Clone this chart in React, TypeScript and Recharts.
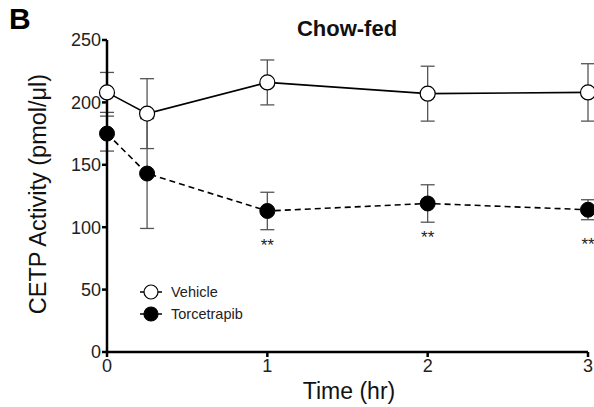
import React from "react";
import {
    LineChart,
    Line,
    XAxis,
    YAxis,
    ErrorBar,
    LabelList,
    Legend,
} from "recharts";

const timeHr = [0, 0.25, 1, 2, 3];
const vehicle = [208, 191, 216, 207, 208];
const vehicleErr = [16, 28, 18, 22, 23];
const torcetrapib = [175, 143, 113, 119, 114];
const torcetrapibErr = [14, 44, 15, 15, 8];
const significance = ["", "", "**", "**", "**"];
const yTicks = [0, 50, 100, 150, 200, 250];
const xTicks = [0, 1, 2, 3];

const data = timeHr.map((t, i) => ({
    t,
    vehicle: vehicle[i],
    vehicleErr: vehicleErr[i],
    torcetrapib: torcetrapib[i],
    torcetrapibErr: torcetrapibErr[i],
    sig: significance[i],
}));

const FONT = '"Liberation Sans", Arial, sans-serif';

const StarLabel = (props: any) => {
    const { x, y, value } = props;
    if (!value) return null;
    return (
        <text
            x={x}
            y={y + 40}
            textAnchor="middle"
            fontSize={17}
            fontFamily={FONT}
            fill="#222"
        >
            {value}
        </text>
    );
};

const LegendBox = () => {
    const rows = [
        { name: "Vehicle", fill: "#fff" },
        { name: "Torcetrapib", fill: "#000" },
    ];
    return (
        <div style={{ fontFamily: FONT, fontSize: 14.5, color: "#222" }}>
            {rows.map((r) => (
                <div
                    key={r.name}
                    style={{ display: "flex", alignItems: "center", height: 22 }}
                >
                    <svg width={22} height={16} style={{ marginRight: 9 }}>
                        <line x1={0} y1={8} x2={22} y2={8} stroke="#000" strokeWidth={1.5} />
                        <circle cx={11} cy={8} r={7} fill={r.fill} stroke="#000" strokeWidth={1.2} />
                    </svg>
                    <span>{r.name}</span>
                </div>
            ))}
        </div>
    );
};

export default function App() {
    return (
        <div style={{ position: "absolute", left: 0, top: 0, width: 594, height: 407, background: "#fff" }}>
            <div style={{ position: "absolute", left: 9, top: 2, fontFamily: FONT, fontWeight: 700, fontSize: 30 }}>
                B
            </div>
            <div
                style={{
                    position: "absolute",
                    left: 247,
                    width: 200,
                    top: 16,
                    textAlign: "center",
                    fontFamily: FONT,
                    fontWeight: 700,
                    fontSize: 22,
                    color: "#111",
                }}
            >
                Chow-fed
            </div>
            <div
                style={{
                    position: "absolute",
                    left: 38 - 150,
                    top: 194 - 14,
                    width: 300,
                    height: 28,
                    lineHeight: "28px",
                    textAlign: "center",
                    transform: "rotate(-90deg)",
                    fontFamily: FONT,
                    fontSize: 23.5,
                    color: "#111",
                }}
            >
                CETP Activity (pmol/μl)
            </div>
            <div
                style={{
                    position: "absolute",
                    left: 249,
                    width: 200,
                    top: 378,
                    textAlign: "center",
                    fontFamily: FONT,
                    fontSize: 23,
                    color: "#111",
                }}
            >
                Time (hr)
            </div>
            <LineChart
                width={594}
                height={407}
                data={data}
                margin={{ top: 40, right: 6, bottom: 25, left: 47 }}
            >
                <XAxis
                    dataKey="t"
                    type="number"
                    domain={[0, 3]}
                    ticks={xTicks}
                    height={30}
                    stroke="#000"
                    strokeWidth={2.5}
                    tickSize={5}
                    tick={{ fill: "#222", fontSize: 18, fontFamily: FONT }}
                    tickMargin={2}
                />
                <YAxis
                    type="number"
                    domain={[0, 250]}
                    ticks={yTicks}
                    width={60}
                    stroke="#000"
                    strokeWidth={2.5}
                    tickSize={5}
                    tick={{ fill: "#222", fontSize: 18, fontFamily: FONT }}
                    tickMargin={1}
                />
                <Legend
                    layout="vertical"
                    align="center"
                    verticalAlign="middle"
                    content={() => <LegendBox />}
                    wrapperStyle={{ left: 140, top: 281, width: 140 }}
                />
                <Line
                    dataKey="vehicle"
                    stroke="#000"
                    strokeWidth={1.6}
                    isAnimationActive={false}
                    dot={{ r: 7.5, fill: "#fff", stroke: "#000", strokeWidth: 1.2 }}
                >
                    <ErrorBar dataKey="vehicleErr" width={7} stroke="#555" strokeWidth={1.3} direction="y" />
                </Line>
                <Line
                    dataKey="torcetrapib"
                    stroke="#000"
                    strokeWidth={1.6}
                    strokeDasharray="6 4"
                    isAnimationActive={false}
                    dot={{ r: 7.5, fill: "#000", stroke: "#000", strokeWidth: 1, strokeDasharray: "0" }}
                >
                    <ErrorBar dataKey="torcetrapibErr" width={7} stroke="#555" strokeWidth={1.3} direction="y" />
                    <LabelList dataKey="sig" content={StarLabel} />
                </Line>
            </LineChart>
        </div>
    );
}
